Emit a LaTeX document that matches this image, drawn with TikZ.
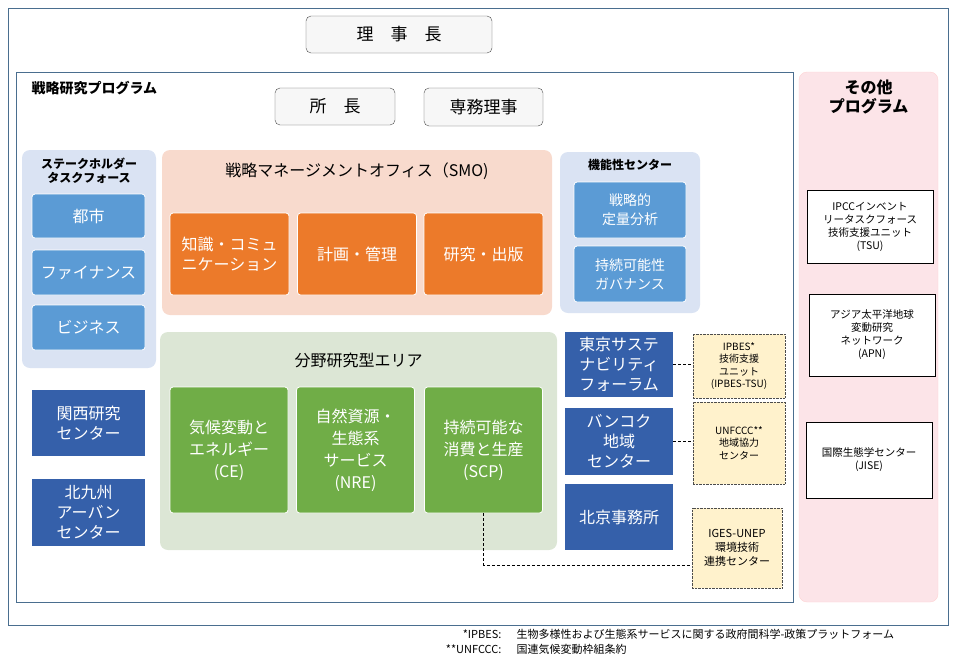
\documentclass[tikz,border=0pt]{standalone}
\usepackage{fontspec}
\setmainfont{Noto Sans CJK JP}
\definecolor{lightblue}{HTML}{DAE3F3}
\definecolor{midblue}{HTML}{5B9BD5}
\definecolor{darkblue}{HTML}{3560AA}
\definecolor{peach}{HTML}{F8DACD}
\definecolor{orangebox}{HTML}{EC7A2A}
\definecolor{lightgreen}{HTML}{DCE6D5}
\definecolor{greenbox}{HTML}{70AD47}
\definecolor{lightyellow}{HTML}{FFF2CC}
\definecolor{pinkpanel}{HTML}{FCE4E8}
\definecolor{frameblue}{HTML}{4A6E8F}
\tikzset{
  panel/.style={rounded corners=8pt, draw=none, inner sep=0pt},
  boxnode/.style={rounded corners=3pt, draw=white, thick, inner sep=0pt, align=center, text=white, font=\fontsize{16}{20}\selectfont},
  headbox/.style={rounded corners=5pt, draw=black!70, fill=black!3, inner sep=0pt, font=\fontsize{17}{20}\selectfont},
  notebox/.style={draw=black!70, densely dotted, fill=lightyellow, inner sep=0pt, align=center, font=\fontsize{10}{12.5}\selectfont},
  otherbox/.style={draw=black, fill=white, inner sep=0pt, align=center, font=\fontsize{10.5}{13}\selectfont},
  title/.style={font=\bfseries\fontsize{14}{16}\selectfont, align=center},
  link/.style={densely dashed, black}
}
\begin{document}
\begin{tikzpicture}[x=1pt,y=-1pt]
\useasboundingbox (0,0) rectangle (960,662);
\draw[frameblue] (8,8) rectangle (948,625);

% board
\node[headbox, minimum width=186, minimum height=37] (chair) at (399,34.5) {理\hspace{1em}事\hspace{1em}長};

% strategic research
\draw[frameblue] (16,72) rectangle (793,602);
\node[title, anchor=west] (srp) at (28,88) {戦略研究プログラム};
\node[headbox, minimum width=120, minimum height=37] (pres) at (335,106.5) {所\hspace{1em}長};
\node[headbox, minimum width=119, minimum height=38] (exec) at (483.5,107) {専務理事};

% stakeholder task force
\node[panel, fill=lightblue, minimum width=134, minimum height=218] (stk) at (89,259) {};
\node[title, font=\bfseries\fontsize{12}{14}\selectfont] (stktitle) at (89,171) {ステークホルダー\\タスクフォース};
\node[boxnode, fill=midblue, minimum width=113, minimum height=44] (city) at (88.5,216) {都市};
\node[boxnode, fill=midblue, minimum width=113, minimum height=45] (fin) at (88.5,272.5) {ファイナンス};
\node[boxnode, fill=midblue, minimum width=113, minimum height=45] (biz) at (88.5,327.5) {ビジネス};

% SMO
\node[panel, fill=peach, minimum width=390, minimum height=165] (smo) at (357,232.5) {};
\node[font=\fontsize{16}{20}\selectfont] (smotitle) at (357,171) {戦略マネージメントオフィス（SMO)};
\node[boxnode, fill=orangebox, minimum width=119, minimum height=82] (know) at (229.5,254) {知識・コミュ\\ニケーション};
\node[boxnode, fill=orangebox, minimum width=119, minimum height=82] (plan) at (357,254) {計画・管理};
\node[boxnode, fill=orangebox, minimum width=119, minimum height=82] (pub) at (483.5,254) {研究・出版};

% functional centres
\node[panel, fill=lightblue, minimum width=140, minimum height=161] (func) at (630,232.5) {};
\node[title, font=\bfseries\fontsize{12}{14}\selectfont] (functitle) at (630,165) {機能性センター};
\node[boxnode, fill=midblue, minimum width=112, minimum height=56, font=\fontsize{14}{19}\selectfont] (quant) at (630,210) {戦略的\\定量分析};
\node[boxnode, fill=midblue, minimum width=112, minimum height=56, font=\fontsize{14}{19}\selectfont] (gov) at (630,274) {持続可能性\\ガバナンス};

% thematic areas
\node[panel, fill=lightgreen, minimum width=397, minimum height=218] (area) at (358.5,441) {};
\node[font=\fontsize{16}{20}\selectfont] (areatitle) at (358.5,360) {分野研究型エリア};
\node[boxnode, fill=greenbox, minimum width=118, minimum height=126, font=\fontsize{16}{22}\selectfont] (ce) at (229,450) {気候変動と\\エネルギー\\(CE)};
\node[boxnode, fill=greenbox, minimum width=118, minimum height=126, font=\fontsize{16}{22}\selectfont] (nre) at (355.5,450) {自然資源・\\生態系\\サービス\\(NRE)};
\node[boxnode, fill=greenbox, minimum width=118, minimum height=126, font=\fontsize{16}{22}\selectfont] (scp) at (483.5,450) {持続可能な\\消費と生産\\(SCP)};

% regional offices
\node[boxnode, fill=darkblue, rounded corners=0pt, draw=none, minimum width=113, minimum height=66] (kansai) at (88.5,423) {関西研究\\センター};
\node[boxnode, fill=darkblue, rounded corners=0pt, draw=none, minimum width=113, minimum height=67] (kitaq) at (88.5,512.5) {北九州\\アーバン\\センター};
\node[boxnode, fill=darkblue, rounded corners=0pt, draw=none, minimum width=108, minimum height=65] (tokyo) at (619,364.5) {東京サステ\\ナビリティ\\フォーラム};
\node[boxnode, fill=darkblue, rounded corners=0pt, draw=none, minimum width=108, minimum height=67] (bkk) at (619,441.5) {バンコク\\地域\\センター};
\node[boxnode, fill=darkblue, rounded corners=0pt, draw=none, minimum width=108, minimum height=66] (bjg) at (619,517) {北京事務所};

% partner units
\node[notebox, minimum width=92, minimum height=64] (ipbes) at (739,366) {IPBES*\\技術支援\\ユニット\\(IPBES-TSU)};
\node[notebox, minimum width=92, minimum height=82] (unfccc) at (739,443) {UNFCCC**\\地域協力\\センター};
\node[notebox, minimum width=90, minimum height=80, font=\fontsize{11}{14}\selectfont] (iges) at (737,548) {IGES-UNEP\\環境技術\\連携センター};
\draw[link] (tokyo.east) -- (ipbes.west |- tokyo.east);
\draw[link] (bkk.east) -- (unfccc.west |- bkk.east);
\coordinate (bend) at (scp.south |- 0,565);
\draw[link] (scp.south) -- (bend) -- (iges.west |- bend);

% other programmes
\node[panel, fill=pinkpanel, draw=pink!70, minimum width=139, minimum height=530] (other) at (868.5,337) {};
\node[title, font=\bfseries\fontsize{16}{19}\selectfont] (othertitle) at (868.5,97) {その他\\プログラム};
\node[otherbox, minimum width=126, minimum height=73] (ipcc) at (870,226.5) {IPCCインベント\\リータスクフォース\\技術支援ユニット\\(TSU)};
\node[otherbox, minimum width=126, minimum height=82] (apn) at (872,335) {アジア太平洋地球\\変動研究\\ネットワーク\\(APN)};
\node[otherbox, minimum width=126, minimum height=76] (jise) at (869,460) {国際生態学センター\\(JISE)};

% footnotes
\node[anchor=east, font=\fontsize{11}{13}\selectfont] (fn1a) at (505,634) {*IPBES:};
\node[anchor=west, font=\fontsize{11}{13}\selectfont] (fn1b) at (513,634) {生物多様性および生態系サービスに関する政府間科学-政策プラットフォーム};
\node[anchor=east, font=\fontsize{11}{13}\selectfont] (fn2a) at (505,649) {**UNFCCC:};
\node[anchor=west, font=\fontsize{11}{13}\selectfont] (fn2b) at (513,649) {国連気候変動枠組条約};
\end{tikzpicture}
\end{document}
